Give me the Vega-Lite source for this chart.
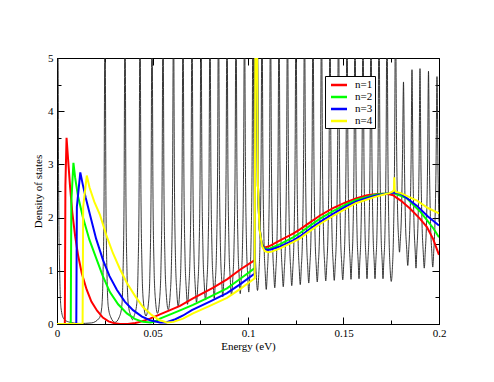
{
"$schema": "https://vega.github.io/schema/vega-lite/v6.json",
"width": 382, "height": 266,
"autosize": {"type": "none"},
"padding": {"left": 57, "top": 58, "right": 55, "bottom": 58},
"background": "white",
"config": {
 "view": {"stroke": "black", "strokeWidth": 1},
 "font": "Liberation Serif",
 "axis": {"labelFont": "Liberation Serif", "titleFont": "Liberation Serif", "labelFontSize": 11, "titleFontSize": 11, "titleFontWeight": "normal", "labelColor": "black", "titleColor": "black", "tickColor": "black", "domainColor": "black", "grid": false, "zindex": 1, "labelFlush": false, "labelOverlap": false}
},
"datasets": {
"black": [
{"E":0,"DOS":6},{"E":0.0004,"DOS":6},{"E":0.0009,"DOS":2.3},{"E":0.00145,"DOS":0.9},{"E":0.0021,"DOS":0.3},{"E":0.0035,"DOS":0.1},{"E":0.006,"DOS":0.04},{"E":0.012,"DOS":0.01},{"E":0.018,"DOS":0.02},
{"E":0.02213,"DOS":0.11},{"E":0.02343,"DOS":0.31},{"E":0.02408,"DOS":0.91},{"E":0.02463,"DOS":2.31},{"E":0.02513,"DOS":6},{"E":0.02563,"DOS":2.33},{"E":0.02618,"DOS":0.93},{"E":0.02683,"DOS":0.33},{"E":0.02813,"DOS":0.13},{"E":0.03037,"DOS":0.03},
{"E":0.0326,"DOS":0.13},{"E":0.0339,"DOS":0.33},{"E":0.03455,"DOS":0.93},{"E":0.0351,"DOS":2.33},{"E":0.0356,"DOS":6},{"E":0.0361,"DOS":2.38},{"E":0.03665,"DOS":0.98},{"E":0.0373,"DOS":0.38},{"E":0.0386,"DOS":0.16},{"E":0.03953,"DOS":0.08},
{"E":0.04046,"DOS":0.16},{"E":0.04176,"DOS":0.38},{"E":0.04241,"DOS":0.98},{"E":0.04296,"DOS":2.38},{"E":0.04346,"DOS":6},{"E":0.04396,"DOS":2.45},{"E":0.04451,"DOS":1.05},{"E":0.04516,"DOS":0.45},{"E":0.0466,"DOS":0.15},
{"E":0.04804,"DOS":0.45},{"E":0.04869,"DOS":1.05},{"E":0.04924,"DOS":2.45},{"E":0.04974,"DOS":6},{"E":0.05024,"DOS":2.5},{"E":0.05079,"DOS":1.1},{"E":0.05144,"DOS":0.5},{"E":0.05262,"DOS":0.2},
{"E":0.0538,"DOS":0.5},{"E":0.05445,"DOS":1.1},{"E":0.055,"DOS":2.5},{"E":0.0555,"DOS":6},{"E":0.056,"DOS":2.57},{"E":0.05655,"DOS":1.17},{"E":0.0572,"DOS":0.57},{"E":0.05825,"DOS":0.27},
{"E":0.05929,"DOS":0.57},{"E":0.05994,"DOS":1.17},{"E":0.06049,"DOS":2.57},{"E":0.06099,"DOS":6},{"E":0.06149,"DOS":2.63},{"E":0.06204,"DOS":1.23},{"E":0.06269,"DOS":0.63},{"E":0.06348,"DOS":0.33},
{"E":0.06427,"DOS":0.63},{"E":0.06492,"DOS":1.23},{"E":0.06547,"DOS":2.63},{"E":0.06597,"DOS":6},{"E":0.06647,"DOS":2.67},{"E":0.06702,"DOS":1.27},{"E":0.06767,"DOS":0.67},{"E":0.06833,"DOS":0.37},
{"E":0.06898,"DOS":0.67},{"E":0.06963,"DOS":1.27},{"E":0.07018,"DOS":2.67},{"E":0.07068,"DOS":6},{"E":0.07118,"DOS":2.71},{"E":0.07173,"DOS":1.31},{"E":0.07238,"DOS":0.71},{"E":0.07304,"DOS":0.41},
{"E":0.07369,"DOS":0.71},{"E":0.07434,"DOS":1.31},{"E":0.07489,"DOS":2.71},{"E":0.07539,"DOS":6},{"E":0.07589,"DOS":2.75},{"E":0.07644,"DOS":1.35},{"E":0.07709,"DOS":0.75},{"E":0.07775,"DOS":0.45},
{"E":0.0784,"DOS":0.75},{"E":0.07905,"DOS":1.35},{"E":0.0796,"DOS":2.75},{"E":0.0801,"DOS":6},{"E":0.0806,"DOS":2.78},{"E":0.08115,"DOS":1.38},{"E":0.0818,"DOS":0.78},{"E":0.08233,"DOS":0.48},
{"E":0.08285,"DOS":0.78},{"E":0.0835,"DOS":1.38},{"E":0.08405,"DOS":2.78},{"E":0.08455,"DOS":6},{"E":0.08505,"DOS":2.81},{"E":0.0856,"DOS":1.41},{"E":0.08625,"DOS":0.81},{"E":0.08678,"DOS":0.51},
{"E":0.08731,"DOS":0.81},{"E":0.08796,"DOS":1.41},{"E":0.08851,"DOS":2.81},{"E":0.08901,"DOS":6},{"E":0.08951,"DOS":2.84},{"E":0.09006,"DOS":1.44},{"E":0.09071,"DOS":0.84},{"E":0.09137,"DOS":0.54},
{"E":0.09202,"DOS":0.84},{"E":0.09267,"DOS":1.44},{"E":0.09322,"DOS":2.84},{"E":0.09372,"DOS":6},{"E":0.09422,"DOS":2.87},{"E":0.09477,"DOS":1.47},{"E":0.09542,"DOS":0.87},{"E":0.09595,"DOS":0.57},
{"E":0.09647,"DOS":0.87},{"E":0.09712,"DOS":1.47},{"E":0.09767,"DOS":2.87},{"E":0.09817,"DOS":6},{"E":0.09867,"DOS":2.9},{"E":0.09922,"DOS":1.5},{"E":0.09987,"DOS":0.9},{"E":0.1004,"DOS":0.6},
{"E":0.10092,"DOS":0.9},{"E":0.10157,"DOS":1.5},{"E":0.10212,"DOS":2.9},{"E":0.10262,"DOS":6},{"E":0.10312,"DOS":2.93},{"E":0.10367,"DOS":1.53},{"E":0.10432,"DOS":0.93},{"E":0.10498,"DOS":0.63},
{"E":0.10563,"DOS":0.93},{"E":0.10628,"DOS":1.53},{"E":0.10683,"DOS":2.93},{"E":0.10733,"DOS":6},{"E":0.10783,"DOS":2.95},{"E":0.10838,"DOS":1.55},{"E":0.10903,"DOS":0.95},{"E":0.10956,"DOS":0.65},
{"E":0.11008,"DOS":0.95},{"E":0.11073,"DOS":1.55},{"E":0.11128,"DOS":2.95},{"E":0.11178,"DOS":6},{"E":0.11228,"DOS":2.98},{"E":0.11283,"DOS":1.58},{"E":0.11348,"DOS":0.98},{"E":0.11401,"DOS":0.68},
{"E":0.11453,"DOS":0.98},{"E":0.11518,"DOS":1.58},{"E":0.11573,"DOS":2.98},{"E":0.11623,"DOS":6},{"E":0.11673,"DOS":3.0},{"E":0.11728,"DOS":1.6},{"E":0.11793,"DOS":1.0},{"E":0.11846,"DOS":0.7},
{"E":0.11898,"DOS":1.0},{"E":0.11963,"DOS":1.6},{"E":0.12018,"DOS":3.0},{"E":0.12068,"DOS":6},{"E":0.12118,"DOS":3.02},{"E":0.12173,"DOS":1.62},{"E":0.12238,"DOS":1.02},{"E":0.12291,"DOS":0.72},
{"E":0.12343,"DOS":1.02},{"E":0.12408,"DOS":1.62},{"E":0.12463,"DOS":3.02},{"E":0.12513,"DOS":6},{"E":0.12563,"DOS":3.04},{"E":0.12618,"DOS":1.64},{"E":0.12683,"DOS":1.04},{"E":0.12736,"DOS":0.74},
{"E":0.12788,"DOS":1.04},{"E":0.12853,"DOS":1.64},{"E":0.12908,"DOS":3.04},{"E":0.12958,"DOS":6},{"E":0.13008,"DOS":3.07},{"E":0.13063,"DOS":1.67},{"E":0.13128,"DOS":1.07},{"E":0.13181,"DOS":0.77},
{"E":0.13233,"DOS":1.07},{"E":0.13298,"DOS":1.67},{"E":0.13353,"DOS":3.07},{"E":0.13403,"DOS":6},{"E":0.13453,"DOS":3.09},{"E":0.13508,"DOS":1.69},{"E":0.13573,"DOS":1.09},{"E":0.13626,"DOS":0.79},
{"E":0.13678,"DOS":1.09},{"E":0.13743,"DOS":1.69},{"E":0.13798,"DOS":3.09},{"E":0.13848,"DOS":6},{"E":0.13898,"DOS":3.11},{"E":0.13953,"DOS":1.71},{"E":0.14018,"DOS":1.11},{"E":0.14071,"DOS":0.81},
{"E":0.14123,"DOS":1.11},{"E":0.14188,"DOS":1.71},{"E":0.14243,"DOS":3.11},{"E":0.14293,"DOS":6},{"E":0.14343,"DOS":3.12},{"E":0.14398,"DOS":1.72},{"E":0.14463,"DOS":1.12},{"E":0.14516,"DOS":0.82},
{"E":0.14568,"DOS":1.12},{"E":0.14633,"DOS":1.72},{"E":0.14688,"DOS":3.12},{"E":0.14738,"DOS":6},{"E":0.14788,"DOS":3.13},{"E":0.14843,"DOS":1.73},{"E":0.14908,"DOS":1.13},{"E":0.14961,"DOS":0.83},
{"E":0.15013,"DOS":1.13},{"E":0.15078,"DOS":1.73},{"E":0.15133,"DOS":3.13},{"E":0.15183,"DOS":6},{"E":0.15233,"DOS":3.14},{"E":0.15288,"DOS":1.74},{"E":0.15353,"DOS":1.14},{"E":0.15393,"DOS":0.84},
{"E":0.15432,"DOS":1.14},{"E":0.15497,"DOS":1.74},{"E":0.15552,"DOS":3.14},{"E":0.15602,"DOS":6},{"E":0.15652,"DOS":3.15},{"E":0.15707,"DOS":1.75},{"E":0.15772,"DOS":1.15},{"E":0.15812,"DOS":0.85},
{"E":0.15851,"DOS":1.15},{"E":0.15916,"DOS":1.75},{"E":0.15971,"DOS":3.15},{"E":0.16021,"DOS":6},{"E":0.16071,"DOS":3.15},{"E":0.16126,"DOS":1.75},{"E":0.16191,"DOS":1.15},{"E":0.16231,"DOS":0.85},
{"E":0.1627,"DOS":1.15},{"E":0.16335,"DOS":1.75},{"E":0.1639,"DOS":3.15},{"E":0.1644,"DOS":6},{"E":0.1649,"DOS":3.15},{"E":0.16545,"DOS":1.75},{"E":0.1661,"DOS":1.15},{"E":0.1665,"DOS":0.85},
{"E":0.16689,"DOS":1.15},{"E":0.16754,"DOS":1.75},{"E":0.16809,"DOS":3.15},{"E":0.16859,"DOS":6},{"E":0.16909,"DOS":3.15},{"E":0.16964,"DOS":1.75},{"E":0.17029,"DOS":1.15},{"E":0.17068,"DOS":0.85},
{"E":0.17107,"DOS":1.15},{"E":0.17172,"DOS":1.75},{"E":0.17227,"DOS":3.15},{"E":0.17277,"DOS":6},{"E":0.17327,"DOS":3.1},{"E":0.17382,"DOS":1.7},{"E":0.17447,"DOS":1.0},{"E":0.175,"DOS":0.8},
{"E":0.17553,"DOS":1.0},{"E":0.17618,"DOS":1.7},{"E":0.17673,"DOS":3.1},{"E":0.17723,"DOS":6},{"E":0.17773,"DOS":3.6},{"E":0.17828,"DOS":2.2},{"E":0.17893,"DOS":1.55},{"E":0.17932,"DOS":1.35},
{"E":0.17971,"DOS":1.55},{"E":0.18036,"DOS":2.1},{"E":0.18091,"DOS":3.2},{"E":0.18141,"DOS":4.55},{"E":0.18191,"DOS":3.0},{"E":0.18246,"DOS":1.9},{"E":0.18311,"DOS":1.4},{"E":0.18364,"DOS":1.1},
{"E":0.18416,"DOS":1.4},{"E":0.18481,"DOS":1.95},{"E":0.18536,"DOS":3.0},{"E":0.18586,"DOS":4.78},{"E":0.18636,"DOS":2.95},{"E":0.18691,"DOS":1.9},{"E":0.18756,"DOS":1.35},{"E":0.18796,"DOS":1.05},
{"E":0.18835,"DOS":1.35},{"E":0.189,"DOS":1.9},{"E":0.18955,"DOS":2.95},{"E":0.19005,"DOS":4.8},{"E":0.19055,"DOS":2.95},{"E":0.1911,"DOS":1.9},{"E":0.19175,"DOS":1.35},{"E":0.19228,"DOS":1.05},
{"E":0.1928,"DOS":1.35},{"E":0.19345,"DOS":1.9},{"E":0.194,"DOS":2.95},{"E":0.1945,"DOS":4.75},{"E":0.195,"DOS":2.97},{"E":0.19555,"DOS":1.92},{"E":0.1962,"DOS":1.37},{"E":0.19673,"DOS":1.07},
{"E":0.19725,"DOS":1.37},{"E":0.1979,"DOS":1.92},{"E":0.19845,"DOS":2.97},{"E":0.19895,"DOS":4.65},{"E":0.19945,"DOS":2.97},{"E":0.2,"DOS":1.92}
],
"bands": [
{"n":"n=1","E":0,"DOS":0},{"n":"n=1","E":0.0041,"DOS":0},{"n":"n=1","E":0.0044,"DOS":2.6},{"n":"n=1","E":0.005,"DOS":3.5},{"n":"n=1","E":0.0058,"DOS":3.1},{"n":"n=1","E":0.0068,"DOS":2.6},{"n":"n=1","E":0.008,"DOS":2.1},{"n":"n=1","E":0.0095,"DOS":1.65},{"n":"n=1","E":0.011,"DOS":1.3},{"n":"n=1","E":0.013,"DOS":0.95},{"n":"n=1","E":0.0155,"DOS":0.65},{"n":"n=1","E":0.018,"DOS":0.42},{"n":"n=1","E":0.021,"DOS":0.25},{"n":"n=1","E":0.024,"DOS":0.12},{"n":"n=1","E":0.027,"DOS":0.05},{"n":"n=1","E":0.03,"DOS":0.015},{"n":"n=1","E":0.033,"DOS":0},{"n":"n=1","E":0.037,"DOS":0},{"n":"n=1","E":0.041,"DOS":0.02},{"n":"n=1","E":0.0435,"DOS":0.04},{"n":"n=1","E":0.0487,"DOS":0.1},{"n":"n=1","E":0.0539,"DOS":0.18},{"n":"n=1","E":0.0592,"DOS":0.26},{"n":"n=1","E":0.0644,"DOS":0.34},{"n":"n=1","E":0.0712,"DOS":0.48},{"n":"n=1","E":0.0816,"DOS":0.68},{"n":"n=1","E":0.089,"DOS":0.84},{"n":"n=1","E":0.0958,"DOS":1.02},{"n":"n=1","E":0.1035,"DOS":1.2},{"n":"n=1","E":0.1039,"DOS":6},{"n":"n=1","E":0.1046,"DOS":6},{"n":"n=1","E":0.1052,"DOS":2.6},{"n":"n=1","E":0.106,"DOS":1.85},{"n":"n=1","E":0.1068,"DOS":1.58},{"n":"n=1","E":0.1078,"DOS":1.47},{"n":"n=1","E":0.109,"DOS":1.44},{"n":"n=1","E":0.111,"DOS":1.46},{"n":"n=1","E":0.1168,"DOS":1.57},{"n":"n=1","E":0.1236,"DOS":1.7},{"n":"n=1","E":0.1272,"DOS":1.78},{"n":"n=1","E":0.1325,"DOS":1.91},{"n":"n=1","E":0.1377,"DOS":2.04},{"n":"n=1","E":0.1445,"DOS":2.18},{"n":"n=1","E":0.1508,"DOS":2.28},{"n":"n=1","E":0.1565,"DOS":2.36},{"n":"n=1","E":0.1623,"DOS":2.42},{"n":"n=1","E":0.1665,"DOS":2.44},{"n":"n=1","E":0.1707,"DOS":2.45},{"n":"n=1","E":0.174,"DOS":2.44},{"n":"n=1","E":0.176,"DOS":2.42},{"n":"n=1","E":0.1775,"DOS":2.38},{"n":"n=1","E":0.18,"DOS":2.32},{"n":"n=1","E":0.1848,"DOS":2.17},{"n":"n=1","E":0.19,"DOS":1.98},{"n":"n=1","E":0.1937,"DOS":1.82},{"n":"n=1","E":0.1969,"DOS":1.6},{"n":"n=1","E":0.2,"DOS":1.3},
{"n":"n=2","E":0,"DOS":0},{"n":"n=2","E":0.0072,"DOS":0},{"n":"n=2","E":0.0075,"DOS":2.3},{"n":"n=2","E":0.0086,"DOS":3.03},{"n":"n=2","E":0.0095,"DOS":2.75},{"n":"n=2","E":0.011,"DOS":2.4},{"n":"n=2","E":0.0136,"DOS":2.0},{"n":"n=2","E":0.017,"DOS":1.58},{"n":"n=2","E":0.0209,"DOS":1.2},{"n":"n=2","E":0.024,"DOS":0.9},{"n":"n=2","E":0.0277,"DOS":0.6},{"n":"n=2","E":0.032,"DOS":0.37},{"n":"n=2","E":0.0366,"DOS":0.2},{"n":"n=2","E":0.041,"DOS":0.09},{"n":"n=2","E":0.045,"DOS":0.04},{"n":"n=2","E":0.049,"DOS":0.03},{"n":"n=2","E":0.0515,"DOS":0.05},{"n":"n=2","E":0.0539,"DOS":0.1},{"n":"n=2","E":0.06,"DOS":0.19},{"n":"n=2","E":0.066,"DOS":0.28},{"n":"n=2","E":0.0712,"DOS":0.36},{"n":"n=2","E":0.08,"DOS":0.51},{"n":"n=2","E":0.089,"DOS":0.67},{"n":"n=2","E":0.096,"DOS":0.85},{"n":"n=2","E":0.1035,"DOS":1.05},{"n":"n=2","E":0.1039,"DOS":6},{"n":"n=2","E":0.1046,"DOS":6},{"n":"n=2","E":0.1052,"DOS":2.6},{"n":"n=2","E":0.106,"DOS":1.82},{"n":"n=2","E":0.107,"DOS":1.54},{"n":"n=2","E":0.1082,"DOS":1.44},{"n":"n=2","E":0.1095,"DOS":1.41},{"n":"n=2","E":0.1115,"DOS":1.42},{"n":"n=2","E":0.1168,"DOS":1.5},{"n":"n=2","E":0.1236,"DOS":1.63},{"n":"n=2","E":0.1272,"DOS":1.71},{"n":"n=2","E":0.1325,"DOS":1.85},{"n":"n=2","E":0.1377,"DOS":1.98},{"n":"n=2","E":0.1445,"DOS":2.12},{"n":"n=2","E":0.1508,"DOS":2.24},{"n":"n=2","E":0.1565,"DOS":2.33},{"n":"n=2","E":0.1623,"DOS":2.39},{"n":"n=2","E":0.1665,"DOS":2.43},{"n":"n=2","E":0.1707,"DOS":2.45},{"n":"n=2","E":0.174,"DOS":2.46},{"n":"n=2","E":0.1765,"DOS":2.47},{"n":"n=2","E":0.1775,"DOS":2.44},{"n":"n=2","E":0.18,"DOS":2.41},{"n":"n=2","E":0.1833,"DOS":2.36},{"n":"n=2","E":0.187,"DOS":2.22},{"n":"n=2","E":0.19,"DOS":2.12},{"n":"n=2","E":0.1942,"DOS":1.93},{"n":"n=2","E":0.197,"DOS":1.8},{"n":"n=2","E":0.2,"DOS":1.63},
{"n":"n=3","E":0,"DOS":0},{"n":"n=3","E":0.0101,"DOS":0},{"n":"n=3","E":0.0104,"DOS":2.2},{"n":"n=3","E":0.0122,"DOS":2.85},{"n":"n=3","E":0.0135,"DOS":2.62},{"n":"n=3","E":0.015,"DOS":2.38},{"n":"n=3","E":0.0173,"DOS":2.05},{"n":"n=3","E":0.0205,"DOS":1.6},{"n":"n=3","E":0.0241,"DOS":1.2},{"n":"n=3","E":0.0275,"DOS":0.9},{"n":"n=3","E":0.0314,"DOS":0.64},{"n":"n=3","E":0.0355,"DOS":0.42},{"n":"n=3","E":0.0398,"DOS":0.26},{"n":"n=3","E":0.0445,"DOS":0.14},{"n":"n=3","E":0.0487,"DOS":0.07},{"n":"n=3","E":0.0539,"DOS":0.03},{"n":"n=3","E":0.057,"DOS":0.03},{"n":"n=3","E":0.062,"DOS":0.09},{"n":"n=3","E":0.066,"DOS":0.16},{"n":"n=3","E":0.0706,"DOS":0.26},{"n":"n=3","E":0.08,"DOS":0.42},{"n":"n=3","E":0.089,"DOS":0.58},{"n":"n=3","E":0.096,"DOS":0.75},{"n":"n=3","E":0.1035,"DOS":0.95},{"n":"n=3","E":0.1039,"DOS":6},{"n":"n=3","E":0.1046,"DOS":6},{"n":"n=3","E":0.1052,"DOS":2.6},{"n":"n=3","E":0.106,"DOS":1.8},{"n":"n=3","E":0.1072,"DOS":1.5},{"n":"n=3","E":0.1085,"DOS":1.41},{"n":"n=3","E":0.11,"DOS":1.39},{"n":"n=3","E":0.112,"DOS":1.4},{"n":"n=3","E":0.1168,"DOS":1.46},{"n":"n=3","E":0.1236,"DOS":1.57},{"n":"n=3","E":0.1272,"DOS":1.65},{"n":"n=3","E":0.1325,"DOS":1.79},{"n":"n=3","E":0.1377,"DOS":1.92},{"n":"n=3","E":0.1445,"DOS":2.07},{"n":"n=3","E":0.1508,"DOS":2.2},{"n":"n=3","E":0.1565,"DOS":2.3},{"n":"n=3","E":0.1623,"DOS":2.37},{"n":"n=3","E":0.1665,"DOS":2.41},{"n":"n=3","E":0.1707,"DOS":2.44},{"n":"n=3","E":0.174,"DOS":2.46},{"n":"n=3","E":0.1765,"DOS":2.47},{"n":"n=3","E":0.178,"DOS":2.46},{"n":"n=3","E":0.18,"DOS":2.45},{"n":"n=3","E":0.1848,"DOS":2.32},{"n":"n=3","E":0.1885,"DOS":2.22},{"n":"n=3","E":0.1942,"DOS":2.02},{"n":"n=3","E":0.2,"DOS":1.85},
{"n":"n=4","E":0,"DOS":0},{"n":"n=4","E":0.0134,"DOS":0},{"n":"n=4","E":0.0137,"DOS":2.2},{"n":"n=4","E":0.0156,"DOS":2.79},{"n":"n=4","E":0.017,"DOS":2.57},{"n":"n=4","E":0.0195,"DOS":2.3},{"n":"n=4","E":0.0225,"DOS":2.05},{"n":"n=4","E":0.026,"DOS":1.65},{"n":"n=4","E":0.0293,"DOS":1.33},{"n":"n=4","E":0.033,"DOS":1.03},{"n":"n=4","E":0.0366,"DOS":0.77},{"n":"n=4","E":0.041,"DOS":0.52},{"n":"n=4","E":0.045,"DOS":0.32},{"n":"n=4","E":0.0495,"DOS":0.17},{"n":"n=4","E":0.0539,"DOS":0.07},{"n":"n=4","E":0.0575,"DOS":0.03},{"n":"n=4","E":0.061,"DOS":0.04},{"n":"n=4","E":0.066,"DOS":0.1},{"n":"n=4","E":0.0712,"DOS":0.2},{"n":"n=4","E":0.08,"DOS":0.34},{"n":"n=4","E":0.089,"DOS":0.49},{"n":"n=4","E":0.096,"DOS":0.66},{"n":"n=4","E":0.1035,"DOS":0.86},{"n":"n=4","E":0.1039,"DOS":6},{"n":"n=4","E":0.1046,"DOS":6},{"n":"n=4","E":0.1052,"DOS":2.6},{"n":"n=4","E":0.106,"DOS":1.78},{"n":"n=4","E":0.1074,"DOS":1.46},{"n":"n=4","E":0.1088,"DOS":1.37},{"n":"n=4","E":0.1105,"DOS":1.35},{"n":"n=4","E":0.1125,"DOS":1.36},{"n":"n=4","E":0.1168,"DOS":1.42},{"n":"n=4","E":0.1236,"DOS":1.54},{"n":"n=4","E":0.1272,"DOS":1.61},{"n":"n=4","E":0.1325,"DOS":1.75},{"n":"n=4","E":0.1377,"DOS":1.88},{"n":"n=4","E":0.1445,"DOS":2.03},{"n":"n=4","E":0.1508,"DOS":2.16},{"n":"n=4","E":0.1565,"DOS":2.27},{"n":"n=4","E":0.1623,"DOS":2.34},{"n":"n=4","E":0.1665,"DOS":2.39},{"n":"n=4","E":0.1707,"DOS":2.43},{"n":"n=4","E":0.174,"DOS":2.46},{"n":"n=4","E":0.1758,"DOS":2.49},{"n":"n=4","E":0.1764,"DOS":2.52},{"n":"n=4","E":0.1766,"DOS":2.76},{"n":"n=4","E":0.1768,"DOS":2.52},{"n":"n=4","E":0.1775,"DOS":2.48},{"n":"n=4","E":0.18,"DOS":2.46},{"n":"n=4","E":0.1848,"DOS":2.38},{"n":"n=4","E":0.1885,"DOS":2.32},{"n":"n=4","E":0.1942,"DOS":2.18},{"n":"n=4","E":0.2,"DOS":2.08}
]
},
"layer": [
{
 "data": {"name": "black"},
 "mark": {"type": "line", "color": "#222222", "strokeWidth": 0.9, "clip": true, "interpolate": "monotone"},
 "encoding": {
  "x": {"field": "E", "type": "quantitative", "scale": {"domain": [0, 0.2], "nice": false, "zero": false},
        "axis": {"orient": "bottom", "values": [0, 0.05, 0.1, 0.15, 0.2], "format": "~g", "tickSize": -7, "labelPadding": 10, "title": "Energy (eV)", "titlePadding": 2}},
  "y": {"field": "DOS", "type": "quantitative", "scale": {"domain": [0, 5], "nice": false},
        "axis": {"orient": "left", "values": [0, 1, 2, 3, 4, 5], "format": "d", "tickSize": -7, "labelPadding": 11, "title": "Density of states", "titlePadding": 4}}
 }
},
{
 "data": {"name": "bands"},
 "mark": {"type": "line", "strokeWidth": 2, "clip": true},
 "encoding": {
  "x": {"field": "E", "type": "quantitative", "axis": {"orient": "bottom", "values": [0.025, 0.075, 0.125, 0.175], "tickSize": -4, "labels": false, "domain": false, "title": null}},
  "y": {"field": "DOS", "type": "quantitative", "axis": {"orient": "left", "values": [0.5, 1.5, 2.5, 3.5, 4.5], "tickSize": -4, "labels": false, "domain": false, "title": null}},
  "color": {"field": "n", "type": "nominal",
   "scale": {"domain": ["n=1", "n=2", "n=3", "n=4"], "range": ["#ff0000", "#00ff00", "#0000ff", "#ffff00"]},
   "legend": {"orient": "none", "legendX": 268, "legendY": 18, "title": null, "symbolType": "M-1.51,0H1.51", "symbolStrokeWidth": 2.5, "symbolSize": 112, "symbolOffset": 5, "labelFont": "Liberation Serif", "labelFontSize": 11, "labelColor": "black", "strokeColor": "black", "fillColor": "white", "padding": 2, "rowPadding": 0, "labelOffset": 9, "cornerRadius": 0}}
 }
},
{
 "data": {"name": "bands"},
 "mark": {"type": "point", "opacity": 0},
 "encoding": {
  "x": {"field": "E", "type": "quantitative", "axis": {"orient": "top", "values": [0, 0.05, 0.1, 0.15, 0.2], "tickSize": -7, "labels": false, "domain": false, "title": null}},
  "y": {"field": "DOS", "type": "quantitative", "axis": {"orient": "right", "values": [0, 1, 2, 3, 4, 5], "tickSize": -7, "labels": false, "domain": false, "title": null}}
 }
},
{
 "data": {"name": "bands"},
 "mark": {"type": "point", "opacity": 0},
 "encoding": {
  "x": {"field": "E", "type": "quantitative", "axis": {"orient": "top", "values": [0.025, 0.075, 0.125, 0.175], "tickSize": -4, "labels": false, "domain": false, "title": null}},
  "y": {"field": "DOS", "type": "quantitative", "axis": {"orient": "right", "values": [0.5, 1.5, 2.5, 3.5, 4.5], "tickSize": -4, "labels": false, "domain": false, "title": null}}
 }
}
],
"resolve": {"axis": {"x": "independent", "y": "independent"}}
}
